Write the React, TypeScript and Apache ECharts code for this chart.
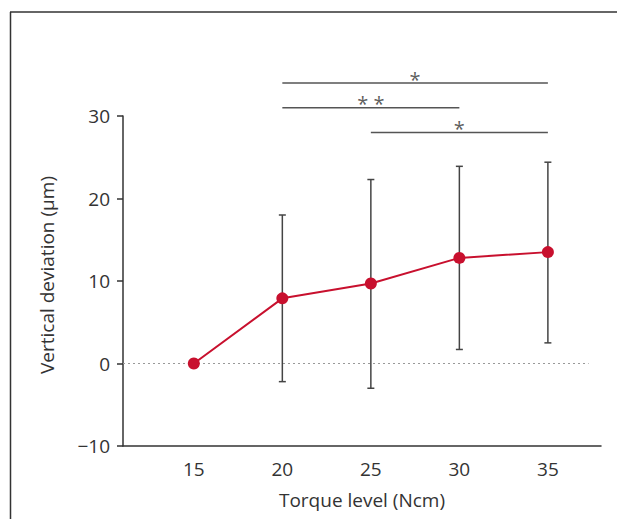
import React, { useEffect, useRef } from "react";
import * as echarts from "echarts";

const torque = [15, 20, 25, 30, 35];
const meanDev = [0, 7.9, 9.7, 12.8, 13.5];
const errLow = [null, -2.2, -3.0, 1.7, 2.5];
const errHigh = [null, 18.0, 22.3, 23.9, 24.4];
const yTicks = [-10, 0, 10, 20, 30];
const sigFrom = [20, 20, 25];
const sigTo = [35, 30, 35];
const sigY = [34, 31, 28];
const sigLabel = ["*", "* *", "*"];

const FONT = "'Open Sans', 'Noto Sans', sans-serif";
const TXT = "#333";
const RED = "#c8102e";

export default function App() {
  const ref = useRef<HTMLDivElement>(null);
  useEffect(() => {
    document.body.style.margin = "0";
    const chart = echarts.init(ref.current!, null, { renderer: "svg" });

    const errData = torque
      .map((t, i) => (errLow[i] == null ? null : [t, errLow[i], errHigh[i]]))
      .filter((d) => d != null);

    const sigSeries: any[] = sigFrom.map((f, i) => ({
      type: "line",
      data: [
        [f, sigY[i]],
        [sigTo[i], sigY[i]],
      ],
      symbol: "none",
      clip: false,
      silent: true,
      lineStyle: { color: "#555", width: 1.5 },
      z: 3,
    }));

    const txt = { fontFamily: FONT, fontSize: 19, color: TXT, fontWeight: 400 };

    const option: any = {
      animation: false,
      grid: {
        left: 123,
        right: 16,
        top: 116,
        bottom: 73,
        containLabel: false,
        outerBoundsMode: "none",
      },
      graphic: [
        {
          type: "line",
          shape: { x1: 10, y1: 12, x2: 617, y2: 12 },
          style: { stroke: "#333", lineWidth: 1.5 },
        },
        {
          type: "line",
          shape: { x1: 10.5, y1: 12, x2: 10.5, y2: 519 },
          style: { stroke: "#333", lineWidth: 1.5 },
        },
      ],
      xAxis: {
        type: "value",
        min: 11,
        max: 38,
        name: "Torque level (Ncm)",
        nameLocation: "middle",
        nameGap: 44,
        nameTextStyle: txt,
        axisLine: { show: true, onZero: false, lineStyle: { color: "#333", width: 1.5 } },
        axisTick: { show: false },
        splitLine: { show: false },
        axisLabel: {
          customValues: torque,
          margin: 13,
          ...txt,
        },
      },
      yAxis: {
        type: "value",
        min: -10,
        max: 30,
        interval: 10,
        name: "Vertical deviation (μm)",
        nameLocation: "middle",
        nameGap: 67,
        nameTextStyle: { ...txt, padding: [0, 0, 0, 12] },
        axisLine: { show: true, onZero: false, lineStyle: { color: "#333", width: 1.5 } },
        axisTick: {
          show: true,
          length: 6,
          lineStyle: { color: "#333", width: 1.5 },
        },
        splitLine: { show: false },
        axisLabel: {
          margin: 13,
          ...txt,
          formatter: (v: number) => (v < 0 ? "\u2212" + Math.abs(v) : String(v)),
        },
      },
      series: [
        {
          type: "line",
          data: [
            [11, 0],
            [37.3, 0],
          ],
          symbol: "none",
          silent: true,
          lineStyle: { color: "#999", width: 1.2, type: [2, 3] },
          z: 1,
        },
        {
          type: "custom",
          data: errData,
          z: 2,
          renderItem: (params: any, api: any) => {
            const x = api.value(0);
            const lo = api.coord([x, api.value(1)]);
            const hi = api.coord([x, api.value(2)]);
            const cap = 3.5;
            const style = { stroke: "#444", lineWidth: 1.5 };
            return {
              type: "group",
              children: [
                { type: "line", shape: { x1: lo[0], y1: lo[1], x2: hi[0], y2: hi[1] }, style },
                { type: "line", shape: { x1: lo[0] - cap, y1: lo[1], x2: lo[0] + cap, y2: lo[1] }, style },
                { type: "line", shape: { x1: hi[0] - cap, y1: hi[1], x2: hi[0] + cap, y2: hi[1] }, style },
              ],
            };
          },
        },
        {
          type: "line",
          data: torque.map((t, i) => [t, meanDev[i]]),
          symbol: "circle",
          symbolSize: 12,
          itemStyle: { color: RED },
          lineStyle: { color: RED, width: 2 },
          z: 5,
        },
        ...sigSeries,
        {
          type: "scatter",
          data: sigFrom.map((f, i) => ({
            value: [(f + sigTo[i]) / 2, sigY[i]],
            label: { formatter: sigLabel[i] },
          })),
          symbolSize: 0,
          clip: false,
          silent: true,
          z: 4,
          label: {
            show: true,
            position: "inside",
            offset: [0, -4],
            fontFamily: FONT,
            fontSize: 20,
            color: TXT,
          },
        },
      ],
    };
    chart.setOption(option);
    return () => chart.dispose();
  }, []);
  return <div ref={ref} style={{ width: 617, height: 519 }} />;
}
